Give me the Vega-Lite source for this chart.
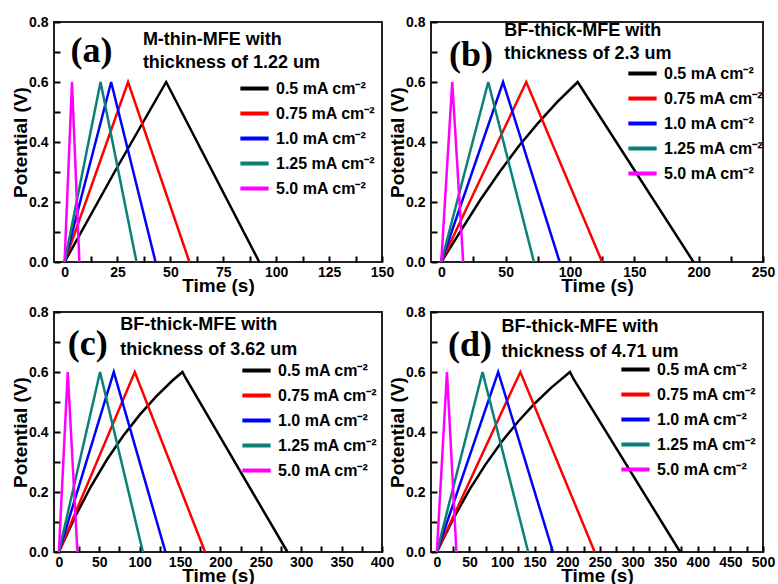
{
  "$schema": "https://vega.github.io/schema/vega-lite/v6.json",
  "padding": {"left": 10, "top": 14, "right": 0, "bottom": 0},
  "background": "white",
  "datasets": {
    "gcd": [
      {"p": "a", "c": "0.5 mA cm⁻²", "t": 0, "v": 0},
      {"p": "a", "c": "0.5 mA cm⁻²", "t": 24, "v": 0.305},
      {"p": "a", "c": "0.5 mA cm⁻²", "t": 48, "v": 0.6},
      {"p": "a", "c": "0.5 mA cm⁻²", "t": 92, "v": 0},
      {"p": "a", "c": "0.75 mA cm⁻²", "t": 0, "v": 0},
      {"p": "a", "c": "0.75 mA cm⁻²", "t": 30, "v": 0.6},
      {"p": "a", "c": "0.75 mA cm⁻²", "t": 59, "v": 0},
      {"p": "a", "c": "1.0 mA cm⁻²", "t": 0, "v": 0},
      {"p": "a", "c": "1.0 mA cm⁻²", "t": 22, "v": 0.6},
      {"p": "a", "c": "1.0 mA cm⁻²", "t": 43, "v": 0},
      {"p": "a", "c": "1.25 mA cm⁻²", "t": 0, "v": 0},
      {"p": "a", "c": "1.25 mA cm⁻²", "t": 17, "v": 0.6},
      {"p": "a", "c": "1.25 mA cm⁻²", "t": 34, "v": 0},
      {"p": "a", "c": "5.0 mA cm⁻²", "t": 0, "v": 0},
      {"p": "a", "c": "5.0 mA cm⁻²", "t": 3.5, "v": 0.6},
      {"p": "a", "c": "5.0 mA cm⁻²", "t": 7, "v": 0},

      {"p": "b", "c": "0.5 mA cm⁻²", "t": 0, "v": 0},
      {"p": "b", "c": "0.5 mA cm⁻²", "t": 15, "v": 0.103},
      {"p": "b", "c": "0.5 mA cm⁻²", "t": 30, "v": 0.205},
      {"p": "b", "c": "0.5 mA cm⁻²", "t": 45, "v": 0.298},
      {"p": "b", "c": "0.5 mA cm⁻²", "t": 60, "v": 0.385},
      {"p": "b", "c": "0.5 mA cm⁻²", "t": 75, "v": 0.462},
      {"p": "b", "c": "0.5 mA cm⁻²", "t": 90, "v": 0.533},
      {"p": "b", "c": "0.5 mA cm⁻²", "t": 106, "v": 0.6},
      {"p": "b", "c": "0.5 mA cm⁻²", "t": 196, "v": 0},
      {"p": "b", "c": "0.75 mA cm⁻²", "t": 0, "v": 0},
      {"p": "b", "c": "0.75 mA cm⁻²", "t": 66, "v": 0.6},
      {"p": "b", "c": "0.75 mA cm⁻²", "t": 125, "v": 0},
      {"p": "b", "c": "1.0 mA cm⁻²", "t": 0, "v": 0},
      {"p": "b", "c": "1.0 mA cm⁻²", "t": 48, "v": 0.6},
      {"p": "b", "c": "1.0 mA cm⁻²", "t": 92, "v": 0},
      {"p": "b", "c": "1.25 mA cm⁻²", "t": 0, "v": 0},
      {"p": "b", "c": "1.25 mA cm⁻²", "t": 36.5, "v": 0.6},
      {"p": "b", "c": "1.25 mA cm⁻²", "t": 72, "v": 0},
      {"p": "b", "c": "5.0 mA cm⁻²", "t": 0, "v": 0},
      {"p": "b", "c": "5.0 mA cm⁻²", "t": 8.5, "v": 0.6},
      {"p": "b", "c": "5.0 mA cm⁻²", "t": 17, "v": 0},

      {"p": "c", "c": "0.5 mA cm⁻²", "t": 0, "v": 0},
      {"p": "c", "c": "0.5 mA cm⁻²", "t": 20, "v": 0.117},
      {"p": "c", "c": "0.5 mA cm⁻²", "t": 40, "v": 0.22},
      {"p": "c", "c": "0.5 mA cm⁻²", "t": 60, "v": 0.31},
      {"p": "c", "c": "0.5 mA cm⁻²", "t": 80, "v": 0.388},
      {"p": "c", "c": "0.5 mA cm⁻²", "t": 100, "v": 0.457},
      {"p": "c", "c": "0.5 mA cm⁻²", "t": 120, "v": 0.517},
      {"p": "c", "c": "0.5 mA cm⁻²", "t": 140, "v": 0.57},
      {"p": "c", "c": "0.5 mA cm⁻²", "t": 153, "v": 0.6},
      {"p": "c", "c": "0.5 mA cm⁻²", "t": 158, "v": 0.575},
      {"p": "c", "c": "0.5 mA cm⁻²", "t": 283, "v": 0},
      {"p": "c", "c": "0.75 mA cm⁻²", "t": 0, "v": 0},
      {"p": "c", "c": "0.75 mA cm⁻²", "t": 94, "v": 0.6},
      {"p": "c", "c": "0.75 mA cm⁻²", "t": 181, "v": 0},
      {"p": "c", "c": "1.0 mA cm⁻²", "t": 0, "v": 0},
      {"p": "c", "c": "1.0 mA cm⁻²", "t": 68, "v": 0.6},
      {"p": "c", "c": "1.0 mA cm⁻²", "t": 132, "v": 0},
      {"p": "c", "c": "1.25 mA cm⁻²", "t": 0, "v": 0},
      {"p": "c", "c": "1.25 mA cm⁻²", "t": 51, "v": 0.6},
      {"p": "c", "c": "1.25 mA cm⁻²", "t": 104, "v": 0},
      {"p": "c", "c": "5.0 mA cm⁻²", "t": 0, "v": 0},
      {"p": "c", "c": "5.0 mA cm⁻²", "t": 11, "v": 0.6},
      {"p": "c", "c": "5.0 mA cm⁻²", "t": 23, "v": 0},

      {"p": "d", "c": "0.5 mA cm⁻²", "t": 0, "v": 0},
      {"p": "d", "c": "0.5 mA cm⁻²", "t": 25, "v": 0.11},
      {"p": "d", "c": "0.5 mA cm⁻²", "t": 50, "v": 0.208},
      {"p": "d", "c": "0.5 mA cm⁻²", "t": 75, "v": 0.293},
      {"p": "d", "c": "0.5 mA cm⁻²", "t": 100, "v": 0.369},
      {"p": "d", "c": "0.5 mA cm⁻²", "t": 125, "v": 0.436},
      {"p": "d", "c": "0.5 mA cm⁻²", "t": 150, "v": 0.495},
      {"p": "d", "c": "0.5 mA cm⁻²", "t": 175, "v": 0.547},
      {"p": "d", "c": "0.5 mA cm⁻²", "t": 204, "v": 0.6},
      {"p": "d", "c": "0.5 mA cm⁻²", "t": 210, "v": 0.575},
      {"p": "d", "c": "0.5 mA cm⁻²", "t": 373, "v": 0},
      {"p": "d", "c": "0.75 mA cm⁻²", "t": 0, "v": 0},
      {"p": "d", "c": "0.75 mA cm⁻²", "t": 128, "v": 0.6},
      {"p": "d", "c": "0.75 mA cm⁻²", "t": 242, "v": 0},
      {"p": "d", "c": "1.0 mA cm⁻²", "t": 0, "v": 0},
      {"p": "d", "c": "1.0 mA cm⁻²", "t": 94, "v": 0.6},
      {"p": "d", "c": "1.0 mA cm⁻²", "t": 178, "v": 0},
      {"p": "d", "c": "1.25 mA cm⁻²", "t": 0, "v": 0},
      {"p": "d", "c": "1.25 mA cm⁻²", "t": 70, "v": 0.6},
      {"p": "d", "c": "1.25 mA cm⁻²", "t": 140, "v": 0},
      {"p": "d", "c": "5.0 mA cm⁻²", "t": 0, "v": 0},
      {"p": "d", "c": "5.0 mA cm⁻²", "t": 15.5, "v": 0.6},
      {"p": "d", "c": "5.0 mA cm⁻²", "t": 30, "v": 0}
    ]
  },
  "columns": 2,
  "spacing": {"row": 8, "column": -8},
  "resolve": {"scale": {"color": "independent", "x": "independent", "y": "independent"}, "legend": {"color": "independent"}},
  "concat": [
    {
      "width": 328, "height": 240,
      "layer": [
        {
          "data": {"name": "gcd"},
          "transform": [{"filter": "datum.p === 'a'"}],
          "mark": {"type": "line", "strokeWidth": 2.5},
          "encoding": {
            "x": {"field": "t", "type": "quantitative", "title": "Time (s)",
                  "scale": {"domain": [-5, 150], "nice": false, "zero": false},
                  "axis": {"values": [0,12.5,25,37.5,50,62.5,75,87.5,100,112.5,125,137.5,150], "labelExpr": "datum.value % 25 === 0 ? datum.label : ''"}},
            "y": {"field": "v", "type": "quantitative", "title": "Potential (V)",
                  "scale": {"domain": [0, 0.8], "nice": false},
                  "axis": {"values": [0,0.1,0.2,0.3,0.4,0.5,0.6,0.7,0.8], "labelExpr": "round(datum.value*10) % 2 === 0 ? format(datum.value, '.1f') : ''"}},
            "color": {"field": "c", "type": "nominal",
                      "scale": {"domain": ["0.5 mA cm⁻²","0.75 mA cm⁻²","1.0 mA cm⁻²","1.25 mA cm⁻²","5.0 mA cm⁻²"], "range": ["#000000","#ff0000","#0000ff","#0a8078","#ff00ff"]},
                      "legend": {"title": null, "orient": "none", "legendX": 184, "legendY": 50}}
          }
        },
        {
          "data": {"values": [{}]},
          "mark": {"type": "text", "text": "(a)", "font": "Liberation Serif", "fontWeight": "bold", "fontSize": 36, "align": "left", "baseline": "alphabetic"},
          "encoding": {"x": {"datum": 2.8, "type": "quantitative"}, "y": {"datum": 0.666, "type": "quantitative"}}
        },
        {
          "data": {"values": [{}]},
          "mark": {"type": "text", "text": ["M-thin-MFE with", "thickness of 1.22 um"], "lineHeight": 23, "font": "Liberation Sans", "fontWeight": "bold", "fontSize": 18, "align": "left", "baseline": "alphabetic"},
          "encoding": {"x": {"datum": 37, "type": "quantitative"}, "y": {"datum": 0.723, "type": "quantitative"}}
        }
      ]
    },
    {
      "width": 332, "height": 240,
      "layer": [
        {
          "data": {"name": "gcd"},
          "transform": [{"filter": "datum.p === 'b'"}],
          "mark": {"type": "line", "strokeWidth": 2.5},
          "encoding": {
            "x": {"field": "t", "type": "quantitative", "title": "Time (s)",
                  "scale": {"domain": [-8, 250], "nice": false, "zero": false},
                  "axis": {"values": [0,25,50,75,100,125,150,175,200,225,250], "labelExpr": "datum.value % 50 === 0 ? datum.label : ''"}},
            "y": {"field": "v", "type": "quantitative", "title": "Potential (V)",
                  "scale": {"domain": [0, 0.8], "nice": false},
                  "axis": {"values": [0,0.1,0.2,0.3,0.4,0.5,0.6,0.7,0.8], "labelExpr": "round(datum.value*10) % 2 === 0 ? format(datum.value, '.1f') : ''"}},
            "color": {"field": "c", "type": "nominal",
                      "scale": {"domain": ["0.5 mA cm⁻²","0.75 mA cm⁻²","1.0 mA cm⁻²","1.25 mA cm⁻²","5.0 mA cm⁻²"], "range": ["#000000","#ff0000","#0000ff","#0a8078","#ff00ff"]},
                      "legend": {"title": null, "orient": "none", "legendX": 195, "legendY": 35}}
          }
        },
        {
          "data": {"values": [{}]},
          "mark": {"type": "text", "text": "(b)", "font": "Liberation Serif", "fontWeight": "bold", "fontSize": 36, "align": "left", "baseline": "alphabetic"},
          "encoding": {"x": {"datum": 6, "type": "quantitative"}, "y": {"datum": 0.655, "type": "quantitative"}}
        },
        {
          "data": {"values": [{}]},
          "mark": {"type": "text", "text": ["BF-thick-MFE with", "thickness of 2.3 um"], "lineHeight": 23, "font": "Liberation Sans", "fontWeight": "bold", "fontSize": 18, "align": "left", "baseline": "alphabetic"},
          "encoding": {"x": {"datum": 49, "type": "quantitative"}, "y": {"datum": 0.754, "type": "quantitative"}}
        }
      ]
    },
    {
      "width": 328, "height": 240,
      "layer": [
        {
          "data": {"name": "gcd"},
          "transform": [{"filter": "datum.p === 'c'"}],
          "mark": {"type": "line", "strokeWidth": 2.5},
          "encoding": {
            "x": {"field": "t", "type": "quantitative", "title": "Time (s)",
                  "scale": {"domain": [-6, 400], "nice": false, "zero": false},
                  "axis": {"values": [0,25,50,75,100,125,150,175,200,225,250,275,300,325,350,375,400], "labelExpr": "datum.value % 50 === 0 ? datum.label : ''"}},
            "y": {"field": "v", "type": "quantitative", "title": "Potential (V)",
                  "scale": {"domain": [0, 0.8], "nice": false},
                  "axis": {"values": [0,0.1,0.2,0.3,0.4,0.5,0.6,0.7,0.8], "labelExpr": "round(datum.value*10) % 2 === 0 ? format(datum.value, '.1f') : ''"}},
            "color": {"field": "c", "type": "nominal",
                      "scale": {"domain": ["0.5 mA cm⁻²","0.75 mA cm⁻²","1.0 mA cm⁻²","1.25 mA cm⁻²","5.0 mA cm⁻²"], "range": ["#000000","#ff0000","#0000ff","#0a8078","#ff00ff"]},
                      "legend": {"title": null, "orient": "none", "legendX": 186, "legendY": 42}}
          }
        },
        {
          "data": {"values": [{}]},
          "mark": {"type": "text", "text": "(c)", "font": "Liberation Serif", "fontWeight": "bold", "fontSize": 36, "align": "left", "baseline": "alphabetic"},
          "encoding": {"x": {"datum": 11, "type": "quantitative"}, "y": {"datum": 0.657, "type": "quantitative"}}
        },
        {
          "data": {"values": [{}]},
          "mark": {"type": "text", "text": ["BF-thick-MFE with", "thickness of 3.62 um"], "lineHeight": 25, "font": "Liberation Sans", "fontWeight": "bold", "fontSize": 18, "align": "left", "baseline": "alphabetic"},
          "encoding": {"x": {"datum": 76, "type": "quantitative"}, "y": {"datum": 0.74, "type": "quantitative"}}
        }
      ]
    },
    {
      "width": 332, "height": 240,
      "layer": [
        {
          "data": {"name": "gcd"},
          "transform": [{"filter": "datum.p === 'd'"}],
          "mark": {"type": "line", "strokeWidth": 2.5},
          "encoding": {
            "x": {"field": "t", "type": "quantitative", "title": "Time (s)",
                  "scale": {"domain": [-9, 500], "nice": false, "zero": false},
                  "axis": {"values": [0,25,50,75,100,125,150,175,200,225,250,275,300,325,350,375,400,425,450,475,500], "labelExpr": "datum.value % 50 === 0 ? datum.label : ''"}},
            "y": {"field": "v", "type": "quantitative", "title": "Potential (V)",
                  "scale": {"domain": [0, 0.8], "nice": false},
                  "axis": {"values": [0,0.1,0.2,0.3,0.4,0.5,0.6,0.7,0.8], "labelExpr": "round(datum.value*10) % 2 === 0 ? format(datum.value, '.1f') : ''"}},
            "color": {"field": "c", "type": "nominal",
                      "scale": {"domain": ["0.5 mA cm⁻²","0.75 mA cm⁻²","1.0 mA cm⁻²","1.25 mA cm⁻²","5.0 mA cm⁻²"], "range": ["#000000","#ff0000","#0000ff","#0a8078","#ff00ff"]},
                      "legend": {"title": null, "orient": "none", "legendX": 188, "legendY": 41}}
          }
        },
        {
          "data": {"values": [{}]},
          "mark": {"type": "text", "text": "(d)", "font": "Liberation Serif", "fontWeight": "bold", "fontSize": 36, "align": "left", "baseline": "alphabetic"},
          "encoding": {"x": {"datum": 17, "type": "quantitative"}, "y": {"datum": 0.653, "type": "quantitative"}}
        },
        {
          "data": {"values": [{}]},
          "mark": {"type": "text", "text": ["BF-thick-MFE with", "thickness of 4.71 um"], "lineHeight": 25, "font": "Liberation Sans", "fontWeight": "bold", "fontSize": 18, "align": "left", "baseline": "alphabetic"},
          "encoding": {"x": {"datum": 99, "type": "quantitative"}, "y": {"datum": 0.733, "type": "quantitative"}}
        }
      ]
    }
  ],
  "config": {
    "view": {"stroke": "#222", "strokeWidth": 2},
    "axis": {"labelFont": "Liberation Sans", "labelFontWeight": "bold", "labelFontSize": 14, "labelColor": "#000",
             "titleFont": "Liberation Sans", "titleFontWeight": "bold", "titleFontSize": 19, "titleColor": "#000",
             "domain": false, "offset": -6, "tickColor": "#000", "tickWidth": 2, "tickSize": 6, "ticks": true, "tickCount": 100,
             "grid": false, "labelFlush": false, "labelOverlap": false, "zindex": 2},
    "axisX": {"titlePadding": -3, "labelPadding": 3},
    "axisY": {"titlePadding": -2, "labelPadding": 6},
    "legend": {"labelFont": "Liberation Sans", "labelFontWeight": "bold", "labelFontSize": 16, "labelColor": "#000",
               "symbolType": "stroke", "symbolStrokeWidth": 4, "symbolSize": 800, "labelOffset": 5, "rowPadding": -4, "padding": 0, "labelLimit": 300},
    "text": {"color": "#000"}
  }
}
